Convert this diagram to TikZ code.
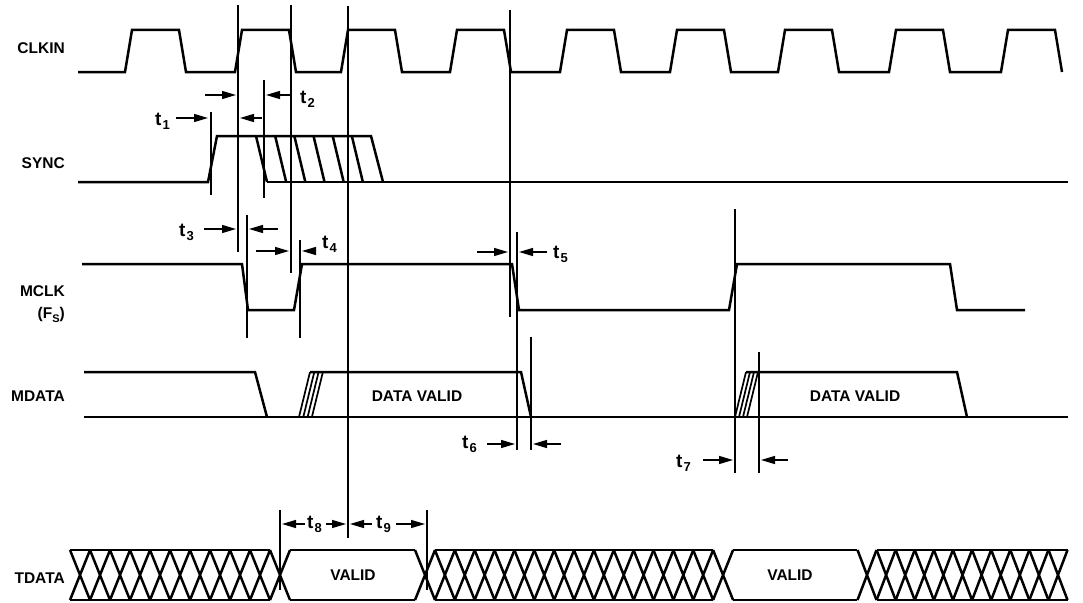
\documentclass[tikz,border=0pt]{standalone}
\usepackage{fontspec}
\setmainfont{Liberation Sans}
\usetikzlibrary{arrows.meta}
\tikzset{
    x=1pt, y=-1pt, % one unit is one pixel of the sheet, y runs downwards
    }
\newcommand{\lowsub}[1]{\kern1pt\raisebox{-0.4ex}{\fontsize{13}{14}\selectfont #1}}

\begin{document}
\begin{tikzpicture}[
wave/.style={line width=2.5pt, line join=miter},
hatch/.style={line width=1.7pt},
refline/.style={line width=1.1pt},
tarrow/.style={line width=1.3pt, -{Triangle[length=14pt,width=8pt]}},
siglabel/.style={anchor=base east, inner sep=0pt, font=\fontsize{15.5}{17}\selectfont\bfseries},
tlabel/.style={anchor=base west, inner sep=0pt, font=\fontsize{19}{20}\selectfont\bfseries},
buslabel/.style={anchor=base, inner sep=0pt, font=\fontsize{15.5}{17}\selectfont\bfseries},
]
\useasboundingbox (0,0) rectangle (1083,602);

\node[siglabel] (clkin) at (65,53) {CLKIN};
\node[siglabel] (sync) at (65,168) {SYNC};
\node[siglabel] (mclk) at (65,296) {MCLK};
\node[siglabel] (fs) at (65,318) {(F\raisebox{-0.5ex}{\fontsize{11}{12}\selectfont S})};
\node[siglabel] (mdata) at (65,401) {MDATA};
\node[siglabel] (tdata) at (65,583) {TDATA};

% CLKIN
\draw[wave] (78,72)
  \foreach \r in {125,235,341,450,560,670,778,889,1001} {
    -- (\r,72) -- (\r+7,30) -- (\r+54,30) -- (\r+61,72) };

% SYNC
\draw[wave] (78,182) -- (208,182) -- (217,136) -- (371,136) -- (383,182);
\draw[wave] (267,182) -- (1068,182);
\foreach \k in {0,...,5}
  \draw[wave] (256+19.17*\k,136) -- (267+19.17*\k,182);

% MCLK
\draw[wave] (82,264) -- (242,264) -- (248,310) -- (294,310) -- (302,264) -- (512,264)
  -- (519,310) -- (729,310) -- (737,264) -- (950,264) -- (957,310) -- (1025,310);

% MDATA
\draw[wave] (84,372) -- (255,372) -- (267,417);
\draw[wave] (84,417) -- (1068,417);
\draw[wave] (310,372) -- (521,372) -- (531,417);
\draw[wave] (746,372) -- (957,372) -- (967,417);
\foreach \k in {0,...,3} {
  \draw[hatch] (299+4.3*\k,417) -- (310+4.3*\k,372);
  \draw[hatch] (735+4*\k,417) -- (746+4*\k,372);
}
\node[buslabel] (dv1) at (417,401) {DATA VALID};
\node[buslabel] (dv2) at (855,401) {DATA VALID};

% TDATA
\foreach \c in {80,100,...,280}
  \draw[wave] (\c-10,550) -- (\c+10,600) (\c-10,600) -- (\c+10,550);
\foreach \k in {0,...,15}
  \draw[wave] (415+19.87*\k,550) -- (435+19.87*\k,600) (415+19.87*\k,600) -- (435+19.87*\k,550);
\foreach \k in {0,...,10}
  \draw[wave] (857.5+19.1*\k,550) -- (876.5+19.1*\k,600) (857.5+19.1*\k,600) -- (876.5+19.1*\k,550);
\draw[wave] (70,550) -- (270,550) (70,600) -- (270,600);
\draw[wave] (290,550) -- (415,550) (290,600) -- (415,600);
\draw[wave] (435,550) -- (713,550) (435,600) -- (713,600);
\draw[wave] (733,550) -- (857,550) (733,600) -- (857,600);
\draw[wave] (877,550) -- (1068,550) (877,600) -- (1068,600);
\node[buslabel] (valid1) at (353,580) {VALID};
\node[buslabel] (valid2) at (790,580) {VALID};

% reference lines
\draw[refline] (211,112) -- (211,195);
\draw[refline] (238,5) -- (238,252);
\draw[refline] (264,80) -- (264,198);
\draw[refline] (291,5) -- (291,273);
\draw[refline] (348,6) -- (348,538);
\draw[refline] (510,10) -- (510,317);
\draw[refline] (247,215) -- (247,338);
\draw[refline] (300,240) -- (300,338);
\draw[refline] (517,232) -- (517,450);
\draw[refline] (531,337) -- (531,450);
\draw[refline] (735,209) -- (735,473);
\draw[refline] (759,352) -- (759,473);
\draw[refline] (280,510) -- (280,590);
\draw[refline] (427,510) -- (427,590);

% timing labels and arrows
\node[tlabel] (t1) at (155,125) {t\lowsub{1}};
\node[tlabel] (t2) at (300,103) {t\lowsub{2}};
\node[tlabel] (t3) at (179,236) {t\lowsub{3}};
\node[tlabel] (t4) at (322,248) {t\lowsub{4}};
\node[tlabel] (t5) at (553,258) {t\lowsub{5}};
\node[tlabel] (t6) at (462,448) {t\lowsub{6}};
\node[tlabel] (t7) at (676,467) {t\lowsub{7}};
\node[tlabel] (t8) at (307,528) {t\lowsub{8}};
\node[tlabel] (t9) at (376,528) {t\lowsub{9}};

\draw[tarrow] (176,118) -- (208,118);
\draw[tarrow] (262,118) -- (240,118);
\draw[tarrow] (205,95) -- (236,95);
\draw[tarrow] (290,95) -- (266,95);
\draw[tarrow] (204,229) -- (236,229);
\draw[tarrow] (278,229) -- (249,229);
\draw[tarrow] (256,251) -- (289,251);
\draw[tarrow] (315,251) -- (302,251);
\draw[tarrow] (477,252) -- (508,252);
\draw[tarrow] (547,252) -- (519,252);
\draw[tarrow] (487,444) -- (515,444);
\draw[tarrow] (561,444) -- (533,444);
\draw[tarrow] (703,460) -- (733,460);
\draw[tarrow] (788,460) -- (761,460);
\draw[tarrow] (305,524) -- (282,524);
\draw[tarrow] (326,524) -- (346,524);
\draw[tarrow] (372,524) -- (350,524);
\draw[tarrow] (396,524) -- (425,524);
\end{tikzpicture}
\end{document}
